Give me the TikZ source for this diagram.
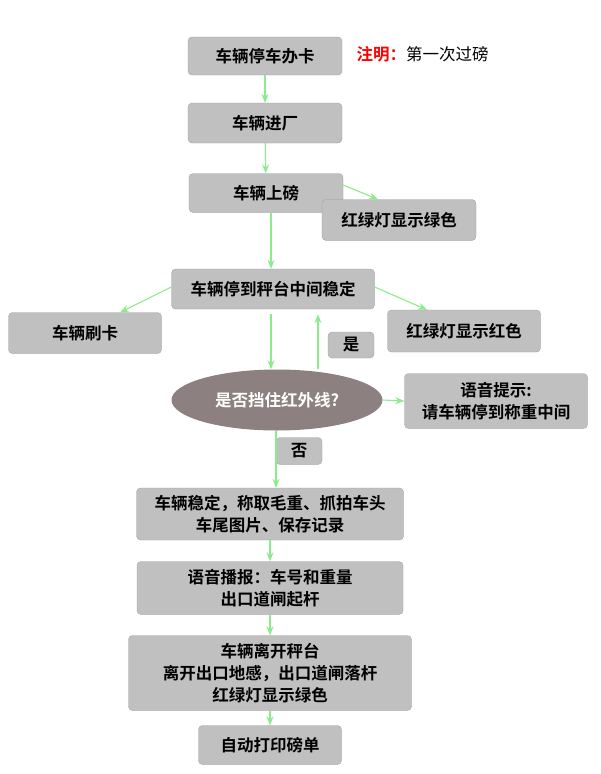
\documentclass[tikz,border=0pt]{standalone}
\usepackage{fontspec}
\newfontfamily\cjk{Noto Sans CJK SC}[BoldFont={Noto Sans CJK SC Bold}]
\usetikzlibrary{positioning,shapes.geometric,arrows.meta}
\definecolor{boxgray}{HTML}{C0C0C0}
\definecolor{ovalgray}{HTML}{8C8080}
\definecolor{arrgreen}{HTML}{8CEB8C}
\tikzset{
  stepbox/.style={draw=boxgray!80!black, line width=0.3pt, fill=boxgray, rounded corners=4pt,
    align=center, inner sep=0pt, font=\cjk\bfseries\fontsize{16.5}{22}\selectfont},
  flow/.style={draw=arrgreen, line width=1.1pt, -{Stealth[length=9pt,width=7pt]}}
}
\begin{document}
\begin{tikzpicture}[x=1pt,y=-1pt]
  \useasboundingbox (0,0) rectangle (600,774);
  % main column
  \node[stepbox, minimum width=154, minimum height=38] (card) at (265,56) {车辆停车办卡};
  \node[font=\cjk\fontsize{16.5}{22}\selectfont, anchor=west] (note) at (353,54) {\textcolor{red}{\bfseries 注明：}第一次过磅};
  \node[stepbox, minimum width=154, minimum height=40] (enter) at (265,123) {车辆进厂};
  \node[stepbox, minimum width=154, minimum height=39] (onscale) at (266,193) {车辆上磅};
  \node[stepbox, minimum width=154, minimum height=41] (green1) at (399,220) {红绿灯显示绿色};
  \node[stepbox, minimum width=203, minimum height=40] (center) at (273,289) {车辆停到秤台中间稳定};
  \node[stepbox, minimum width=153, minimum height=41] (swipe) at (85,333) {车辆刷卡};
  \node[stepbox, minimum width=153, minimum height=42] (red) at (464,331) {红绿灯显示红色};
  \node[stepbox, minimum width=46, minimum height=26] (yes) at (351,345) {是};
  \node[ellipse, fill=ovalgray, minimum width=211, minimum height=61, inner sep=0pt,
    text=white, font=\cjk\bfseries\fontsize{16.5}{22}\selectfont] (ir) at (277,400) {是否挡住红外线?};
  \node[stepbox, minimum width=183, minimum height=55] (voice) at (496,401) {语音提示:\\请车辆停到称重中间};
  \node[stepbox, minimum width=46, minimum height=27] (no) at (299,451) {否};
  \node[stepbox, minimum width=267, minimum height=52] (weigh) at (270,514) {车辆稳定，称取毛重、抓拍车头\\车尾图片、保存记录};
  \node[stepbox, minimum width=266, minimum height=53] (broadcast) at (270,588) {语音播报：车号和重量\\出口道闸起杆};
  \node[stepbox, minimum width=283, minimum height=75] (leave) at (270,673) {车辆离开秤台\\离开出口地感，出口道闸落杆\\红绿灯显示绿色};
  \node[stepbox, minimum width=143, minimum height=39] (print) at (270,745) {自动打印磅单};
  % connectors
  \draw[flow] (card) -- (enter);
  \draw[flow] (enter) -- (onscale);
  \draw[flow] ([yshift=8]onscale.east) -- ([xshift=-21]green1.north);
  \draw[flow] ([xshift=5]onscale.south) -- ([xshift=-2]center.north);
  \draw[flow] ([yshift=2]center.west) -- ([xshift=35]swipe.north);
  \draw[flow] ([yshift=2]center.east) -- ([xshift=-37]red.north);
  \draw[flow] ([xshift=-2,yshift=-5]center.south) -- ([xshift=-6]ir.north);
  \draw[flow] ([xshift=41]ir.north) -- ([xshift=45,yshift=-5]center.south);
  \draw[flow] (ir.east) -- (voice.west);
  \draw[flow] ([xshift=-1]ir.south) -- ([xshift=6]weigh.north);
  \draw[flow] (weigh) -- (broadcast);
  \draw[flow] (broadcast) -- (leave);
  \draw[flow] (leave) -- (print);
\end{tikzpicture}
\end{document}
